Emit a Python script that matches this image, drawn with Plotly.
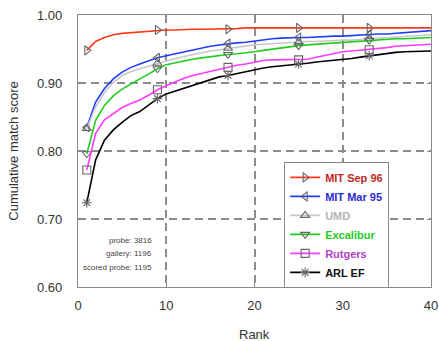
import plotly.graph_objects as go

ranks = list(range(1, 41))
marker_ranks = [1, 9, 17, 25, 33]

series_names = ["MIT Sep 96", "MIT Mar 95", "UMD", "Excalibur", "Rutgers", "ARL EF"]

mit_sep96 = [0.948, 0.961, 0.967, 0.971, 0.973, 0.974, 0.975, 0.977, 0.978, 0.978,
             0.978, 0.979, 0.979, 0.979, 0.979, 0.979, 0.979, 0.980, 0.981, 0.981,
             0.981, 0.981, 0.981, 0.981, 0.981, 0.981, 0.981, 0.981, 0.981, 0.981,
             0.981, 0.981, 0.981, 0.981, 0.981, 0.981, 0.981, 0.981, 0.981, 0.981]
mit_mar95 = [0.835, 0.872, 0.892, 0.906, 0.916, 0.923, 0.928, 0.933, 0.937, 0.940,
             0.943, 0.946, 0.949, 0.952, 0.954, 0.956, 0.958, 0.959, 0.960, 0.962,
             0.963, 0.965, 0.966, 0.967, 0.967, 0.967, 0.968, 0.968, 0.969, 0.969,
             0.970, 0.971, 0.971, 0.972, 0.972, 0.973, 0.974, 0.974, 0.975, 0.977]
umd = [0.833, 0.865, 0.886, 0.901, 0.911, 0.917, 0.921, 0.925, 0.929, 0.933,
       0.936, 0.939, 0.942, 0.945, 0.947, 0.949, 0.951, 0.952, 0.954, 0.956,
       0.957, 0.958, 0.959, 0.959, 0.960, 0.961, 0.961, 0.962, 0.962, 0.963,
       0.963, 0.964, 0.965, 0.965, 0.966, 0.967, 0.968, 0.969, 0.970, 0.971]
excalibur = [0.796, 0.845, 0.867, 0.881, 0.891, 0.899, 0.906, 0.913, 0.921, 0.927,
             0.930, 0.933, 0.935, 0.937, 0.939, 0.941, 0.942, 0.943, 0.944, 0.946,
             0.948, 0.950, 0.952, 0.953, 0.955, 0.956, 0.957, 0.958, 0.959, 0.960,
             0.961, 0.962, 0.963, 0.964, 0.964, 0.965, 0.965, 0.966, 0.966, 0.967]
rutgers = [0.772, 0.826, 0.846, 0.855, 0.864, 0.870, 0.875, 0.882, 0.890, 0.896,
           0.902, 0.907, 0.911, 0.914, 0.918, 0.921, 0.923, 0.926, 0.928, 0.931,
           0.933, 0.934, 0.934, 0.934, 0.934, 0.935, 0.938, 0.941, 0.944, 0.946,
           0.947, 0.948, 0.949, 0.950, 0.952, 0.954, 0.955, 0.956, 0.956, 0.957]
arl_ef = [0.724, 0.787, 0.816, 0.831, 0.842, 0.852, 0.858, 0.867, 0.877, 0.884,
          0.888, 0.892, 0.896, 0.900, 0.905, 0.909, 0.911, 0.914, 0.917, 0.920,
          0.922, 0.924, 0.925, 0.926, 0.928, 0.929, 0.931, 0.932, 0.933, 0.934,
          0.936, 0.938, 0.940, 0.942, 0.943, 0.945, 0.946, 0.946, 0.947, 0.947]

series_values = [mit_sep96, mit_mar95, umd, excalibur, rutgers, arl_ef]
line_colors = ["#ff3a1a", "#1f3dff", "#c8c8c8", "#1fcc1f", "#ff3cff", "#000000"]
text_colors = ["#c0281e", "#2a2ad0", "#b4b4b4", "#22cc22", "#b040c8", "#111111"]
symbols = ["triangle-right-open", "triangle-left-open", "triangle-up-open",
           "triangle-down-open", "square-open", "asterisk-open"]

annotation_lines = ["probe: 3816", "gallery: 1196", "scored probe: 1195"]
annotation_y = [0.669, 0.649, 0.629]

FONT = "Liberation Sans, Arial, sans-serif"
MARKER_GRAY = "#666666"

fig = go.Figure()
for name, vals, lc, tc, sym in zip(series_names, series_values, line_colors, text_colors, symbols):
    fig.add_trace(go.Scatter(x=ranks, y=vals, mode="lines",
                             line=dict(color=lc, width=1.6),
                             showlegend=False, hoverinfo="skip"))
    mx = [r for r in marker_ranks]
    my = [vals[ranks.index(r)] for r in marker_ranks]
    fig.add_trace(go.Scatter(x=mx, y=my, mode="markers",
                             marker=dict(symbol=sym, color=MARKER_GRAY, size=8,
                                         line=dict(width=1.1, color=MARKER_GRAY)),
                             showlegend=False, hoverinfo="skip"))
    fig.add_trace(go.Scatter(x=[None], y=[None], mode="lines+markers",
                             name=f"<b><span style='color:{tc}'>{name}</span></b>",
                             line=dict(color=lc, width=1.6),
                             marker=dict(symbol=sym, color=MARKER_GRAY, size=8,
                                         line=dict(width=1.1, color=MARKER_GRAY))))

for txt, yv in zip(annotation_lines, annotation_y):
    fig.add_annotation(x=8.6, y=yv, xref="x", yref="y", text=txt, showarrow=False,
                       xanchor="right", yanchor="middle",
                       font=dict(family=FONT, size=8, color="#444444"))

# x-axis title placed as paper annotation to match reference position
fig.add_annotation(x=0.5, y=-0.176, xref="paper", yref="paper", text="Rank",
                   showarrow=False, xanchor="center", yanchor="middle",
                   font=dict(family=FONT, size=13, color="#333333"))

axis_common = dict(showline=True, linecolor="#8a8a8a", linewidth=1.2, mirror="ticks",
                   ticks="inside", ticklen=4, tickcolor="#8a8a8a",
                   showgrid=True, gridcolor="#8c8c8c", griddash="8px,5px", gridwidth=1.6,
                   zeroline=False, automargin=False, ticklabeloverflow="allow",
                   tickfont=dict(family=FONT, size=13, color="#333333"))

fig.update_xaxes(range=[0, 40], tickvals=[0, 10, 20, 30, 40],
                 ticklabelstandoff=6,
                 **axis_common)
fig.update_yaxes(range=[0.6, 1.0], tickvals=[0.6, 0.7, 0.8, 0.9, 1.0], tickformat=".2f",
                 title=dict(text="Cumulative match score", font=dict(family=FONT, size=13, color="#333333")),
                 ticklabelstandoff=12,
                 **axis_common)

fig.update_layout(
    width=439, height=341,
    margin=dict(l=78, r=8, t=15, b=54),
    plot_bgcolor="white", paper_bgcolor="white",
    font=dict(family=FONT, size=11),
    legend=dict(x=0.584, y=0.46, xanchor="left", yanchor="top",
                bgcolor="white", bordercolor="#8a8a8a", borderwidth=1,
                font=dict(family=FONT, size=11), tracegroupgap=0),
)

fig.write_html("out.html", config={"displayModeBar": False},
               post_script="document.body.style.margin='0';document.body.style.overflow='hidden';")
